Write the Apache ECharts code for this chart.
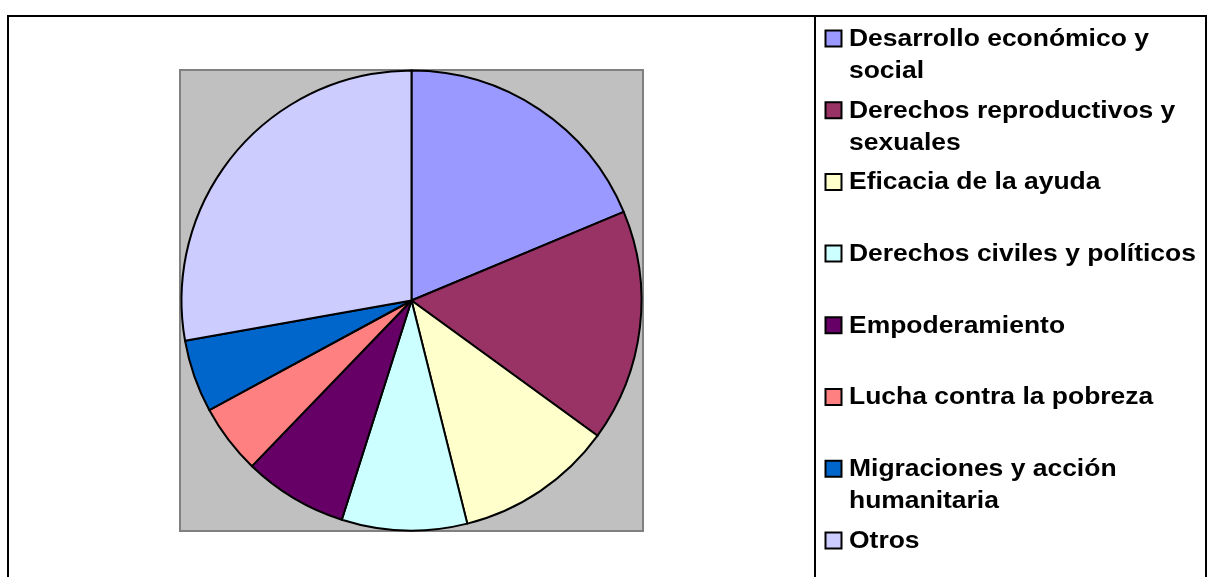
<!DOCTYPE html>
<html>
<head>
<meta charset="utf-8">
<script src="https://cdn.jsdelivr.net/npm/echarts@6/dist/echarts.min.js"></script>
<style>
html,body{margin:0;padding:0;background:#fff;}
#chart{width:1209px;height:577px;}
</style>
</head>
<body>
<div id="chart"></div>
<script>
// Data
const categories = [
  'Desarrollo económico y social',
  'Derechos reproductivos y sexuales',
  'Eficacia de la ayuda',
  'Derechos civiles y políticos',
  'Empoderamiento',
  'Lucha contra la pobreza',
  'Migraciones y acción humanitaria',
  'Otros'
];
const values = [18.7, 16.3, 11.1, 8.8, 7.3, 4.9, 5.1, 27.8];

// Styles
const colors = ['#9999FF', '#993366', '#FFFFCC', '#CCFFFF', '#660066', '#FF8080', '#0066CC', '#CCCCFF'];

const chart = echarts.init(document.getElementById('chart'), null, {renderer: 'canvas'});

const legendTop = 38.5, legendStep = 71.7;
const font = 'bold 23px "Liberation Sans", Arial, sans-serif';
const scaleX = 1.15;
const maxTextWidth = 352; // on-screen width available for legend text

const measureCtx = document.createElement('canvas').getContext('2d');
measureCtx.font = font;
function wrap(text) {
  const words = text.split(' ');
  const lines = [];
  let cur = '';
  words.forEach(w => {
    const test = cur ? cur + ' ' + w : w;
    if (cur && measureCtx.measureText(test).width * scaleX > maxTextWidth) {
      lines.push(cur);
      cur = w;
    } else {
      cur = test;
    }
  });
  if (cur) lines.push(cur);
  return lines.join('\n');
}

const legendEls = [];
categories.forEach((name, i) => {
  const c = legendTop + i * legendStep;
  legendEls.push({
    type: 'rect',
    shape: {x: 825.5, y: c - 8, width: 16, height: 16},
    style: {fill: colors[i], stroke: '#000', lineWidth: 2}
  });
  legendEls.push({
    type: 'text',
    x: 849, y: c - 16 + 1,
    scaleX: scaleX,
    style: {
      text: wrap(name), x: 0, y: 0,
      font: font, lineHeight: 32,
      fill: '#000', verticalAlign: 'top', align: 'left'
    }
  });
});

const option = {
  animation: false,
  backgroundColor: '#fff',
  graphic: [
    {
      type: 'rect', z: 0,
      shape: {x: 8, y: 16, width: 1198, height: 620},
      style: {fill: '#fff', stroke: '#000', lineWidth: 2}
    },
    {
      type: 'line', z: 1,
      shape: {x1: 815, y1: 16, x2: 815, y2: 640},
      style: {stroke: '#000', lineWidth: 2}
    },
    {
      type: 'rect', z: 1,
      shape: {x: 180, y: 70, width: 463, height: 461},
      style: {fill: '#C0C0C0', stroke: '#808080', lineWidth: 2}
    },
    ...legendEls.map(e => Object.assign({z: 1}, e))
  ],
  series: [{
    type: 'pie',
    center: [411.5, 300.5],
    radius: 230,
    startAngle: 90,
    clockwise: true,
    avoidLabelOverlap: false,
    label: {show: false},
    labelLine: {show: false},
    emphasis: {disabled: true},
    itemStyle: {borderColor: '#000', borderWidth: 2},
    data: categories.map((n, i) => ({name: n, value: values[i], itemStyle: {color: colors[i]}}))
  }]
};
chart.setOption(option);
</script>
</body>
</html>
